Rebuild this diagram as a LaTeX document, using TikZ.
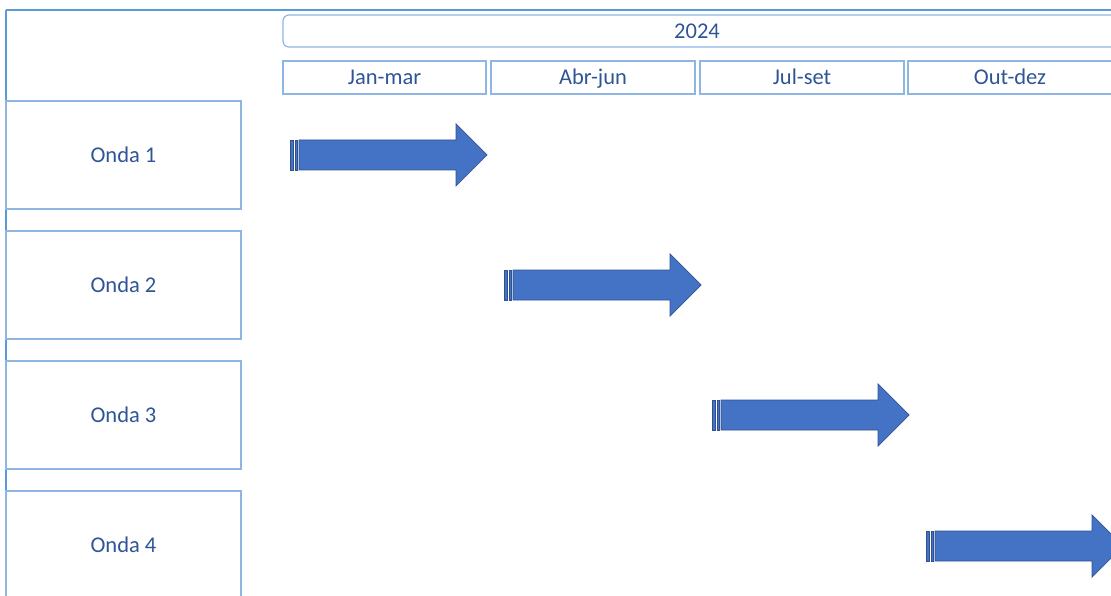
\documentclass[tikz,border=0pt]{standalone}
\usepackage{fontspec}
\setmainfont{Carlito}
\definecolor{frameblue}{HTML}{5B9BD5}
\definecolor{boxblue}{HTML}{8DB6E2}
\definecolor{txtblue}{HTML}{2F5597}
\definecolor{arrowfill}{HTML}{4472C4}
\definecolor{arrowline}{HTML}{2F528F}
\begin{document}
\begin{tikzpicture}[x=1pt,y=-1pt,
  lbl/.style={text=txtblue, font=\fontsize{22.5}{27}\selectfont, text height=18pt, text depth=3pt},
  cell/.style={draw=boxblue, line width=1.2pt, lbl, inner sep=0pt, outer sep=0pt, anchor=north west},
  pics/stripedarrow/.style={code={
    \begin{scope}[fill=arrowfill, draw=arrowline, line width=0.7pt, line join=miter]
      \filldraw (0,-15) rectangle (3,15);
      \filldraw (5,-15) rectangle (7,15);
      \filldraw (9,-15) -- (166,-15) -- (166,-31) -- (197,0) -- (166,31) -- (166,15) -- (9,15) -- cycle;
    \end{scope}
  }}]
  \useasboundingbox (0,0) rectangle (1111,596);
  \clip (0,0) rectangle (1111,596);
  % outer frame
  \draw[frameblue, line width=1.8pt] (6,10) -- (1130,10) (6,10) -- (6,620);
  % year header
  \node[cell, rounded corners=6pt, minimum width=850pt, minimum height=32pt] (year) at (283,15) {};
  \node[lbl] (yeart) at (697,31) {2024};
  % quarter headers
  \node[cell, minimum width=203pt, minimum height=33pt] (q1) at (283,61) {Jan-mar};
  \node[cell, minimum width=204pt, minimum height=33pt] (q2) at (491,61) {Abr-jun};
  \node[cell, minimum width=204pt, minimum height=33pt] (q3) at (700,61) {Jul-set};
  \node[cell, minimum width=204pt, minimum height=33pt] (q4) at (908,61) {Out-dez};
  % wave rows
  \node[cell, minimum width=235pt, minimum height=108pt] (w1) at (6,101) {Onda 1};
  \node[cell, minimum width=235pt, minimum height=108pt] (w2) at (6,231) {Onda 2};
  \node[cell, minimum width=235pt, minimum height=108pt] (w3) at (6,361) {Onda 3};
  \node[cell, minimum width=235pt, minimum height=108pt] (w4) at (6,491) {Onda 4};
  % wave timing arrows
  \pic at (290,155) {stripedarrow};
  \pic at (504,285) {stripedarrow};
  \pic at (712,415) {stripedarrow};
  \pic at (926,546) {stripedarrow};
\end{tikzpicture}
\end{document}
